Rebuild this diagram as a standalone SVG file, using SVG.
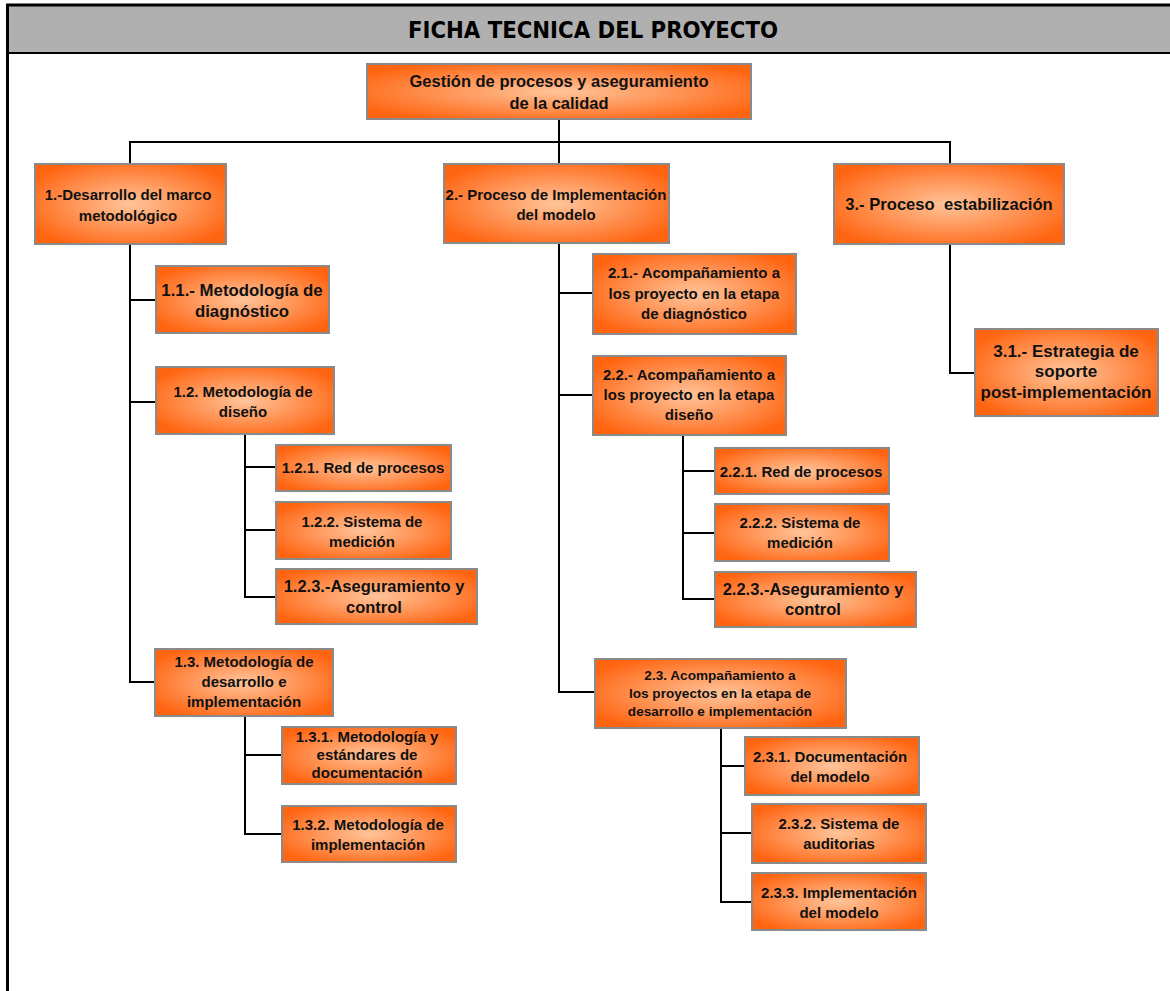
<svg xmlns="http://www.w3.org/2000/svg" width="1170" height="991" viewBox="0 0 1170 991">
  <defs>
    <radialGradient id="orangeGlow" cx="50%" cy="50%" r="60%">
      <stop offset="0" stop-color="#ffc49a"/>
      <stop offset="0.55" stop-color="#ff9050"/>
      <stop offset="1" stop-color="#ff6410"/>
    </radialGradient>
  </defs>
  <style>
    .box { fill: url(#orangeGlow); stroke: #8a8a8a; stroke-width: 2; }
    .lbl { font-family: "Liberation Sans", Arial, sans-serif; font-weight: bold; fill: #111; text-anchor: middle; }
    .link { fill: none; stroke: #000; stroke-width: 2; }
    .title { font-family: "DejaVu Sans", Verdana, sans-serif; font-weight: bold; font-size: 23px; fill: #000; text-anchor: middle; }
  </style>

  <!-- page frame and header band -->
  <g id="frame">
    <rect x="0" y="0" width="1170" height="991" fill="#fff"/>
    <rect x="8" y="5" width="1170" height="48" fill="#b0b0b0"/>
    <line x1="6" y1="5" x2="1170" y2="5" stroke="#000" stroke-width="3"/>
    <line x1="8" y1="53" x2="1170" y2="53" stroke="#000" stroke-width="2"/>
    <line x1="7.5" y1="4" x2="7.5" y2="991" stroke="#000" stroke-width="3"/>
    <text class="title" x="593" y="38" textLength="370" lengthAdjust="spacingAndGlyphs">FICHA TECNICA DEL PROYECTO</text>
  </g>

  <!-- tree connectors -->
  <g id="connectors">
    <path class="link" d="M559 119 V142"/>
    <path class="link" d="M130 164 V142 H950 V164"/>
    <path class="link" d="M559 142 V164"/>
    <!-- branch 1 -->
    <path class="link" d="M130 244 V682 H155"/>
    <path class="link" d="M130 300 H156"/>
    <path class="link" d="M130 402 H156"/>
    <path class="link" d="M245 434 V597 H276"/>
    <path class="link" d="M245 467 H276"/>
    <path class="link" d="M245 530 H276"/>
    <path class="link" d="M245 716 V834 H282"/>
    <path class="link" d="M245 755 H282"/>
    <!-- branch 2 -->
    <path class="link" d="M559 243 V692 H595"/>
    <path class="link" d="M559 293 H593"/>
    <path class="link" d="M559 395 H593"/>
    <path class="link" d="M683 435 V599 H715"/>
    <path class="link" d="M683 471 H715"/>
    <path class="link" d="M683 533 H715"/>
    <path class="link" d="M721 728 V902 H752"/>
    <path class="link" d="M721 766 H745"/>
    <path class="link" d="M721 833 H752"/>
    <!-- branch 3 -->
    <path class="link" d="M950 244 V373 H975"/>
  </g>

  <g id="n-root">
    <rect class="box" x="367" y="64" width="384" height="55"/>
    <text class="lbl" font-size="16.5"><tspan x="559" y="87">Gestión de procesos y aseguramiento</tspan><tspan x="559" y="109">de la calidad</tspan></text>
  </g>

  <g id="n-1">
    <rect class="box" x="35" y="164" width="191" height="80"/>
    <text class="lbl" font-size="15"><tspan x="128" y="200">1.-Desarrollo del marco</tspan><tspan x="128" y="221">metodológico</tspan></text>
  </g>
  <g id="n-1-1">
    <rect class="box" x="156" y="266" width="173" height="67"/>
    <text class="lbl" font-size="16.8"><tspan x="242" y="296">1.1.- Metodología de</tspan><tspan x="242" y="317">diagnóstico</tspan></text>
  </g>
  <g id="n-1-2">
    <rect class="box" x="156" y="367" width="178" height="67"/>
    <text class="lbl" font-size="15"><tspan x="243" y="397">1.2. Metodología de</tspan><tspan x="243" y="417">diseño</tspan></text>
  </g>
  <g id="n-1-2-1">
    <rect class="box" x="276" y="445" width="175" height="46"/>
    <text class="lbl" font-size="15"><tspan x="363" y="473">1.2.1. Red de procesos</tspan></text>
  </g>
  <g id="n-1-2-2">
    <rect class="box" x="276" y="502" width="175" height="57"/>
    <text class="lbl" font-size="15"><tspan x="362" y="527">1.2.2. Sistema de</tspan><tspan x="362" y="547">medición</tspan></text>
  </g>
  <g id="n-1-2-3">
    <rect class="box" x="276" y="569" width="201" height="55"/>
    <text class="lbl" font-size="16.5"><tspan x="374" y="592">1.2.3.-Aseguramiento y</tspan><tspan x="374" y="613">control</tspan></text>
  </g>
  <g id="n-1-3">
    <rect class="box" x="155" y="649" width="178" height="67"/>
    <text class="lbl" font-size="15"><tspan x="244" y="667">1.3. Metodología de</tspan><tspan x="244" y="687">desarrollo e</tspan><tspan x="244" y="707">implementación</tspan></text>
  </g>
  <g id="n-1-3-1">
    <rect class="box" x="282" y="727" width="174" height="57"/>
    <text class="lbl" font-size="15"><tspan x="367" y="742">1.3.1. Metodología y</tspan><tspan x="367" y="760">estándares de</tspan><tspan x="367" y="778">documentación</tspan></text>
  </g>
  <g id="n-1-3-2">
    <rect class="box" x="282" y="806" width="174" height="56"/>
    <text class="lbl" font-size="15"><tspan x="368" y="830">1.3.2. Metodología de</tspan><tspan x="368" y="850">implementación</tspan></text>
  </g>

  <g id="n-2">
    <rect class="box" x="444" y="164" width="225" height="79"/>
    <text class="lbl" font-size="15"><tspan x="556" y="200">2.- Proceso de Implementación</tspan><tspan x="556" y="220">del modelo</tspan></text>
  </g>
  <g id="n-2-1">
    <rect class="box" x="593" y="254" width="203" height="80"/>
    <text class="lbl" font-size="15"><tspan x="694" y="278">2.1.- Acompañamiento a</tspan><tspan x="694" y="299">los proyecto en la etapa</tspan><tspan x="694" y="319">de diagnóstico</tspan></text>
  </g>
  <g id="n-2-2">
    <rect class="box" x="593" y="356" width="193" height="79"/>
    <text class="lbl" font-size="15"><tspan x="689" y="380">2.2.- Acompañamiento a</tspan><tspan x="689" y="400">los proyecto en la etapa</tspan><tspan x="689" y="420">diseño</tspan></text>
  </g>
  <g id="n-2-2-1">
    <rect class="box" x="715" y="448" width="174" height="46"/>
    <text class="lbl" font-size="15"><tspan x="801" y="477">2.2.1. Red de procesos</tspan></text>
  </g>
  <g id="n-2-2-2">
    <rect class="box" x="715" y="504" width="174" height="57"/>
    <text class="lbl" font-size="15"><tspan x="800" y="528">2.2.2. Sistema de</tspan><tspan x="800" y="548">medición</tspan></text>
  </g>
  <g id="n-2-2-3">
    <rect class="box" x="715" y="572" width="201" height="55"/>
    <text class="lbl" font-size="16.5"><tspan x="813" y="595">2.2.3.-Aseguramiento y</tspan><tspan x="813" y="615">control</tspan></text>
  </g>
  <g id="n-2-3">
    <rect class="box" x="595" y="659" width="251" height="69"/>
    <text class="lbl" font-size="13.6"><tspan x="720" y="680">2.3. Acompañamiento a</tspan><tspan x="720" y="698">los proyectos en la etapa de</tspan><tspan x="720" y="716">desarrollo e implementación</tspan></text>
  </g>
  <g id="n-2-3-1">
    <rect class="box" x="745" y="737" width="174" height="58"/>
    <text class="lbl" font-size="15"><tspan x="830" y="762">2.3.1. Documentación</tspan><tspan x="830" y="782">del modelo</tspan></text>
  </g>
  <g id="n-2-3-2">
    <rect class="box" x="752" y="804" width="174" height="59"/>
    <text class="lbl" font-size="15"><tspan x="839" y="829">2.3.2. Sistema de</tspan><tspan x="839" y="849">auditorias</tspan></text>
  </g>
  <g id="n-2-3-3">
    <rect class="box" x="752" y="873" width="174" height="57"/>
    <text class="lbl" font-size="15"><tspan x="839" y="898">2.3.3. Implementación</tspan><tspan x="839" y="918">del modelo</tspan></text>
  </g>

  <g id="n-3">
    <rect class="box" x="834" y="164" width="230" height="80"/>
    <text class="lbl" font-size="16.6"><tspan x="949" y="210" xml:space="preserve">3.- Proceso  estabilización</tspan></text>
  </g>
  <g id="n-3-1">
    <rect class="box" x="975" y="329" width="183" height="87"/>
    <text class="lbl" font-size="17"><tspan x="1066" y="357">3.1.- Estrategia de</tspan><tspan x="1066" y="377">soporte</tspan><tspan x="1066" y="398">post-implementación</tspan></text>
  </g>
</svg>
